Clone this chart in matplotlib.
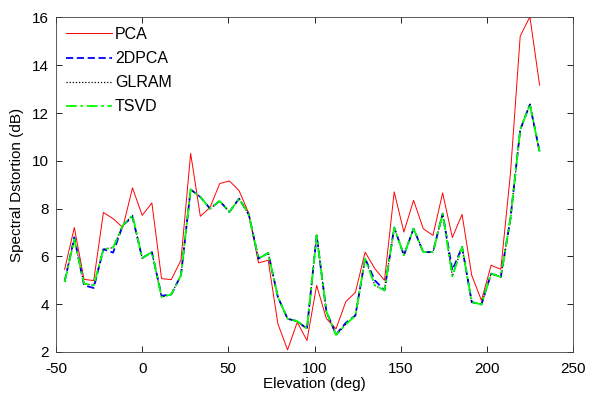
#!/usr/bin/env python3
import numpy as np
import matplotlib
matplotlib.use("Agg")
import matplotlib.pyplot as plt

# elevation angles (deg), 50 positions
elevation = [-45 + 5.625 * k for k in range(50)]

pca = [5.46, 7.21, 5.04, 4.99, 7.84, 7.58, 7.21, 8.87, 7.72, 8.24,
       5.07, 5.03, 5.84, 10.31, 7.68, 8.05, 9.05, 9.16, 8.75, 7.8,
       5.73, 5.84, 3.18, 2.09, 3.25, 2.48, 4.79, 3.4, 2.97, 4.1,
       4.5, 6.18, 5.49, 5.0, 8.7, 7.02, 8.35, 7.16, 6.88, 8.66,
       6.79, 7.76, 5.21, 4.16, 5.63, 5.46, 9.5, 15.22, 16.03, 13.17]

tsvd = [4.93, 6.72, 4.86, 4.79, 6.3, 6.37, 7.3, 7.72, 5.93, 6.18,
        4.3, 4.41, 5.21, 8.8, 8.49, 8.0, 8.32, 7.86, 8.42, 7.75,
        5.91, 6.14, 4.3, 3.39, 3.29, 2.97, 6.88, 3.7, 2.71, 3.15,
        3.53, 5.91, 4.79, 4.58, 7.21, 6.05, 7.16, 6.18, 6.18, 7.79,
        5.17, 6.4, 4.09, 3.99, 5.28, 5.14, 7.6, 11.3, 12.36, 10.38]

glram = list(tsvd)

dpca = [4.95, 6.8, 4.79, 4.68, 6.3, 6.16, 7.3, 7.65, 5.93, 6.18,
        4.35, 4.41, 5.21, 8.8, 8.49, 8.0, 8.32, 7.86, 8.42, 7.75,
        5.91, 6.14, 4.3, 3.39, 3.29, 2.97, 6.88, 3.7, 2.73, 3.22,
        3.53, 5.91, 5.0, 4.58, 7.21, 6.05, 7.16, 6.18, 6.18, 7.79,
        5.42, 6.4, 4.09, 3.99, 5.28, 5.14, 7.6, 11.3, 12.36, 10.38]

plt.rcParams["font.family"] = ["Liberation Sans", "DejaVu Sans"]
plt.rcParams["font.size"] = 11
plt.rcParams["axes.unicode_minus"] = False

fig = plt.figure(figsize=(5.91, 3.94), dpi=100)
ax = fig.add_axes([0.0948, 0.1066, 0.8747, 0.849])

ax.plot(elevation, pca, color="#ff0000", lw=0.7, label="PCA")
ax.plot(elevation, dpca, color="#0000ff", lw=1.3, ls=(0, (4, 2)), label="2DPCA")
ax.plot(elevation, glram, color="black", lw=0.9, ls=(0, (1, 1.5)), label="GLRAM")
ax.plot(elevation, tsvd, color="#00ff00", lw=1.3, ls=(0, (6, 2, 1.5, 2)), label="TSVD")

ax.set_xlim(-50, 250)
ax.set_ylim(2, 16)
ax.set_xticks(np.arange(-50, 251, 50))
ax.set_yticks(np.arange(2, 17, 2))
ax.tick_params(direction="in", top=True, right=True, length=4, width=0.6)
ax.tick_params(axis="x", pad=7)
ax.tick_params(axis="y", pad=5)
for s in ax.spines.values():
    s.set_linewidth(0.6)
    s.set_color("#404040")

ax.set_xlabel("Elevation (deg)", labelpad=1)
ax.set_ylabel("Spectral Dstortion (dB)", labelpad=6)

leg = ax.legend(loc="upper left", bbox_to_anchor=(0.0, 1.0), frameon=False,
                handlelength=2.9, handletextpad=0.2, labelspacing=0.57,
                borderaxespad=0.2, fontsize=11.5)

fig.savefig("out.png", dpi=100)
